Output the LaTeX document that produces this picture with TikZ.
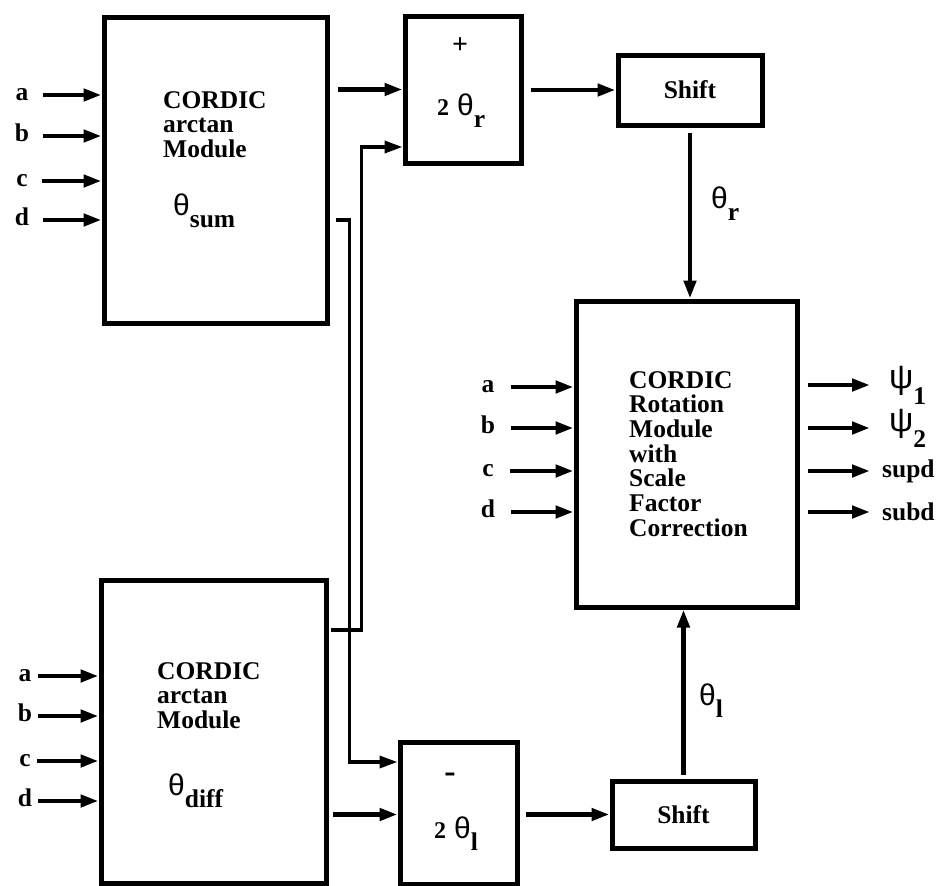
\documentclass[tikz,border=0pt]{standalone}
\usepackage{fontspec}
\setmainfont{Liberation Serif}
\newfontfamily\grkfont{Liberation Sans}
\usetikzlibrary{positioning,arrows.meta}
\newcommand{\lblfont}{\fontsize{25.5}{24.7}\selectfont\bfseries}
\newcommand{\twofont}{\fontsize{24}{24}\selectfont\bfseries}
\newcommand{\thsub}[1]{{\grkfont\mdseries\fontsize{30}{30}\selectfont θ}\raisebox{-12pt}{#1}}
\newcommand{\psisub}[1]{{\grkfont\mdseries\fontsize{34}{34}\selectfont ψ}\raisebox{-16pt}{#1}}

\begin{document}
\lblfont
\begin{tikzpicture}[x=1pt,y=-1pt,
  box/.style={draw, line width=5pt, inner sep=0pt},
  txt/.style={font=\lblfont, inner sep=0pt, align=left},
  io/.style={font=\lblfont, inner sep=0pt},
  arr/.style={-{Triangle[length=18pt,width=12pt]}, line width=4.5pt},
  wire/.style={-{Triangle[length=18pt,width=12pt]}, line width=3.5pt}
]
\useasboundingbox (0,0) rectangle (937,886);

% modules
\node[box, minimum width=223pt, minimum height=306pt] (sumbox) at (215.5,170) {};
\node[box, minimum width=225pt, minimum height=303pt] (diffbox) at (213.5,731.5) {};
\node[box, minimum width=221pt, minimum height=306pt] (rotbox) at (686.5,454) {};
\node[box, minimum width=116pt, minimum height=147pt] (plusbox) at (463,89.5) {};
\node[box, minimum width=117pt, minimum height=142pt] (minusbox) at (458.5,813) {};
\node[box, minimum width=144pt, minimum height=70pt, font=\lblfont] (shiftr) at (690,90) {Shift};
\node[box, minimum width=143pt, minimum height=67pt, font=\lblfont] (shiftl) at (683.5,814.5) {Shift};

% texts inside the modules
\node[txt, anchor=north west] (sumtxt) at (163,91) {CORDIC\\arctan\\Module};
\node[io, anchor=base west] (sumang) at (173,215) {\thsub{sum}};
\node[txt, anchor=north west] (difftxt) at (157,662) {CORDIC\\arctan\\Module};
\node[io, anchor=base west] (diffang) at (168,795) {\thsub{diff}};
\node[txt, anchor=north west] (rottxt) at (629,371)
  {CORDIC\\Rotation\\Module\\with\\Scale\\Factor\\Correction};
\node[io, font=\fontsize{28}{28}\selectfont\bfseries] (plussign) at (460,46) {+};
\node[io, anchor=base west] (twothr) at (437,115) {{\twofont 2}\hspace{8pt}\thsub{r}};
\node[io, font=\fontsize{34}{34}\selectfont\bfseries] (minussign) at (450,778) {-};
\node[io, anchor=base west] (twothl) at (434,838) {{\twofont 2}\hspace{8pt}\thsub{l}};

% inputs of the arctan module (sum)
\node[io, anchor=mid] (sa) at (22,95) {a};
\node[io, anchor=mid] (sb) at (22,136) {b};
\node[io, anchor=mid] (sc) at (22,181) {c};
\node[io, anchor=mid] (sd) at (22,220) {d};
\draw[arr] ([xshift=14pt]sa.mid east) -- (sa.mid east -| sumbox.west);
\draw[arr] ([xshift=14pt]sb.mid east) -- (sb.mid east -| sumbox.west);
\draw[arr] ([xshift=14pt]sc.mid east) -- (sc.mid east -| sumbox.west);
\draw[arr] ([xshift=14pt]sd.mid east) -- (sd.mid east -| sumbox.west);

% inputs of the arctan module (diff)
\node[io, anchor=mid] (da) at (25,676) {a};
\node[io, anchor=mid] (db) at (25,716) {b};
\node[io, anchor=mid] (dc) at (25,761) {c};
\node[io, anchor=mid] (dd) at (25,801) {d};
\draw[arr] ([xshift=6pt]da.mid east) -- (da.mid east -| diffbox.west);
\draw[arr] ([xshift=6pt]db.mid east) -- (db.mid east -| diffbox.west);
\draw[arr] ([xshift=6pt]dc.mid east) -- (dc.mid east -| diffbox.west);
\draw[arr] ([xshift=6pt]dd.mid east) -- (dd.mid east -| diffbox.west);

% inputs of the rotation module
\node[io, anchor=mid] (ra) at (488,387) {a};
\node[io, anchor=mid] (rb) at (488,428) {b};
\node[io, anchor=mid] (rc) at (488,471) {c};
\node[io, anchor=mid] (rd) at (488,512) {d};
\draw[arr] ([xshift=16pt]ra.mid east) -- (ra.mid east -| rotbox.west);
\draw[arr] ([xshift=16pt]rb.mid east) -- (rb.mid east -| rotbox.west);
\draw[arr] ([xshift=16pt]rc.mid east) -- (rc.mid east -| rotbox.west);
\draw[arr] ([xshift=16pt]rd.mid east) -- (rd.mid east -| rotbox.west);

% outputs of the rotation module
\node[io, anchor=west] (psione) at (889,385) {\psisub{1}};
\node[io, anchor=west] (psitwo) at (889,428) {\psisub{2}};
\node[io, anchor=west] (supd) at (882,471) {supd};
\node[io, anchor=west] (subd) at (882,512) {subd};
\draw[arr] ([xshift=8pt]rotbox.east |- psione.west) -- ([xshift=-19pt]psione.west);
\draw[arr] ([xshift=8pt]rotbox.east |- psitwo.west) -- ([xshift=-19pt]psitwo.west);
\draw[arr] ([xshift=8pt]rotbox.east |- supd.west) -- ([xshift=-12pt]supd.west);
\draw[arr] ([xshift=8pt]rotbox.east |- subd.west) -- ([xshift=-12pt]subd.west);

% data path
\coordinate (sumtap) at ([xshift=6pt,yshift=-50pt]sumbox.east);
\coordinate (difftap) at ([xshift=2pt,yshift=101.5pt]diffbox.east);
\draw[arr] ([xshift=8pt]sumbox.east |- plusbox.west) -- (plusbox.west);
\draw[wire] (difftap) -- ++(31,0) |- ([yshift=-57.5pt]plusbox.west);
\draw[wire] (sumtap) -- ++(14,0) |- ([yshift=51pt]minusbox.west);
\draw[arr] ([xshift=4pt]diffbox.east |- shiftl.west) -- (minusbox.west |- shiftl.west);
\draw[arr] ([xshift=7pt]plusbox.east |- shiftr.west) -- (shiftr.west);
\draw[arr] ([xshift=6pt]minusbox.east |- shiftl.west) -- (shiftl.west);
\draw[arr] ([yshift=-5pt]shiftr.south) -- (shiftr.south |- rotbox.north);
\draw[arr] ([yshift=4pt]shiftl.north) -- (shiftl.north |- rotbox.south);

\node[io, anchor=base west] (thr) at (711,208) {\thsub{r}};
\node[io, anchor=base west] (thl) at (699,705) {\thsub{l}};

\end{tikzpicture}
\end{document}
